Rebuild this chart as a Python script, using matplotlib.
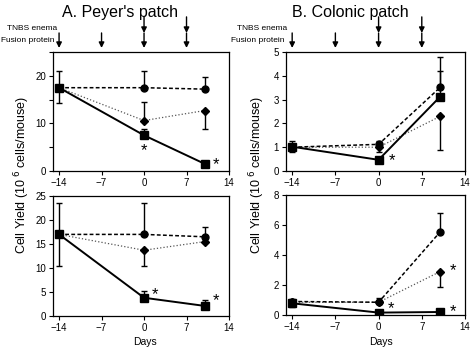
import numpy as np
import matplotlib.pyplot as plt
import matplotlib.transforms as mtransforms

plt.rcParams['font.family'] = ['Liberation Sans', 'DejaVu Sans']

days = [-14, 0, 10]

# A. Peyer's patch, top panel: value, lower end, upper end of error bar
pp1_circ = [17.5, 17.5, 17.2]
pp1_circ_lo = [17.5, 17.5, 17.2]
pp1_circ_hi = [17.5, 21.0, 19.7]
pp1_diam = [17.5, 10.6, 12.7]
pp1_diam_lo = [17.5, 10.6, 8.8]
pp1_diam_hi = [17.5, 14.4, 12.7]
pp1_sq = [17.5, 7.5, 1.5]
pp1_sq_lo = [14.2, 7.5, 1.5]
pp1_sq_hi = [21.0, 8.9, 1.5]

# A. Peyer's patch, bottom panel
pp2_circ = [17.0, 17.0, 16.5]
pp2_circ_lo = [17.0, 17.0, 16.5]
pp2_circ_hi = [17.0, 23.6, 18.6]
pp2_diam = [17.0, 13.7, 15.5]
pp2_diam_lo = [17.0, 10.4, 15.5]
pp2_diam_hi = [17.0, 13.7, 15.5]
pp2_sq = [17.0, 3.8, 2.1]
pp2_sq_lo = [10.4, 3.8, 2.1]
pp2_sq_hi = [23.6, 5.2, 3.4]

# B. Colonic patch, top panel
cp1_circ = [1.0, 1.12, 3.52]
cp1_circ_lo = [1.0, 1.12, 3.52]
cp1_circ_hi = [1.0, 1.24, 4.78]
cp1_diam = [1.0, 1.0, 2.3]
cp1_diam_lo = [1.0, 0.8, 0.9]
cp1_diam_hi = [1.0, 1.0, 2.3]
cp1_sq = [1.02, 0.47, 3.13]
cp1_sq_lo = [0.8, 0.47, 3.13]
cp1_sq_hi = [1.25, 0.47, 4.22]

# B. Colonic patch, bottom panel
cp2_circ = [0.9, 0.85, 5.55]
cp2_circ_lo = [0.9, 0.85, 5.55]
cp2_circ_hi = [1.1, 1.15, 6.8]
cp2_diam = [0.85, 0.85, 2.9]
cp2_diam_lo = [0.55, 0.85, 1.85]
cp2_diam_hi = [0.85, 0.85, 2.9]
cp2_sq = [0.78, 0.16, 0.2]
cp2_sq_lo = [0.78, 0.16, 0.2]
cp2_sq_hi = [0.78, 0.16, 0.2]

fusion_days = [-14, -7, 0, 7]
tnbs_days = [0, 7]

fig = plt.figure(figsize=(4.74, 3.5), dpi=100)
W, H = 474, 350


def add_ax(left, right, top, bottom):
    return fig.add_axes([left / W, 1 - bottom / H, (right - left) / W, (bottom - top) / H])


def series(ax, y, lo, hi, marker, ms, ls, color, lw):
    y = np.array(y)
    yerr = [y - np.array(lo), np.array(hi) - y]
    ax.errorbar(days, y, yerr=yerr, marker=marker, ms=ms, ls=ls, color=color, lw=lw,
                ecolor='black', elinewidth=1.0, capsize=2.5, capthick=1.0,
                mfc='black', mec='black')


def panel(ax, circ, diam, sq, ymax, yticks, stars, minor=None):
    series(ax, *diam, 'D', 3.8, ':', '#555555', 0.9)
    series(ax, *circ, 'o', 5, (0, (2.5, 1.5)), 'black', 1.1)
    series(ax, *sq, 's', 6, '-', 'black', 1.4)
    ax.set_xlim(-15, 14)
    ax.set_ylim(0, ymax)
    ax.set_xticks([-14, -7, 0, 7, 14])
    ax.set_yticks(yticks)
    if minor:
        ax.set_yticks(minor, minor=True)
        ax.tick_params(which='minor', direction='out', length=3, width=0.8)
    ax.tick_params(direction='out', length=3, width=0.8, labelsize=7, pad=2)
    for s in ax.spines.values():
        s.set_linewidth(0.9)
    for sx, sy in stars:
        ax.text(sx, sy, '*', fontsize=12, ha='center', va='center')


def arrows(ax):
    tr = mtransforms.blended_transform_factory(ax.transData, ax.transAxes)
    style = dict(arrowstyle='-|>', color='black', lw=1.0, mutation_scale=8,
                 shrinkA=0, shrinkB=0)
    for d in fusion_days:
        ax.annotate('', xy=(d, 1.034), xytext=(d, 1.16), xycoords=tr, textcoords=tr,
                    arrowprops=style, annotation_clip=False)
    for d in tnbs_days:
        ax.annotate('', xy=(d, 1.16), xytext=(d, 1.295), xycoords=tr, textcoords=tr,
                    arrowprops=style, annotation_clip=False)


axA1 = add_ax(53, 229, 52, 171)
axA2 = add_ax(53, 229, 196, 316)
axB1 = add_ax(286, 465, 52, 171)
axB2 = add_ax(286, 465, 195, 315)

panel(axA1, (pp1_circ, pp1_circ_lo, pp1_circ_hi), (pp1_diam, pp1_diam_lo, pp1_diam_hi),
      (pp1_sq, pp1_sq_lo, pp1_sq_hi), 25, [0, 10, 20], [(0, 4.2), (11.8, 1.4)],
      minor=[5, 15, 25])
panel(axA2, (pp2_circ, pp2_circ_lo, pp2_circ_hi), (pp2_diam, pp2_diam_lo, pp2_diam_hi),
      (pp2_sq, pp2_sq_lo, pp2_sq_hi), 25, [0, 5, 10, 15, 20, 25], [(1.8, 4.4), (11.8, 3.2)])
panel(axB1, (cp1_circ, cp1_circ_lo, cp1_circ_hi), (cp1_diam, cp1_diam_lo, cp1_diam_hi),
      (cp1_sq, cp1_sq_lo, cp1_sq_hi), 5, [0, 1, 2, 3, 4, 5], [(2.1, 0.42)])
panel(axB2, (cp2_circ, cp2_circ_lo, cp2_circ_hi), (cp2_diam, cp2_diam_lo, cp2_diam_hi),
      (cp2_sq, cp2_sq_lo, cp2_sq_hi), 8, [0, 2, 4, 6, 8], [(2.0, 0.4), (12.0, 2.95), (12.0, 0.25)])

arrows(axA1)
arrows(axB1)

fig.text(120 / W, 1 - 12 / H, "A. Peyer's patch", fontsize=11.5, ha='center', va='center')
fig.text(350 / W, 1 - 12 / H, "B. Colonic patch", fontsize=11.5, ha='center', va='center')
for x0 in (7, 237):
    fig.text(x0 / W, 1 - 28 / H, 'TNBS enema', fontsize=6, ha='left', va='center')
    fig.text((x0 - 6) / W, 1 - 41 / H, 'Fusion protein', fontsize=6, ha='left', va='center')

ylab = r'Cell Yield (10$^{\ 6}$ cells/mouse)'
fig.text(22 / W, 0.5, ylab, rotation=90, fontsize=9, ha='center', va='center')
fig.text(257 / W, 0.5, ylab, rotation=90, fontsize=9, ha='center', va='center')
fig.text(145 / W, 1 - 342 / H, 'Days', fontsize=7.5, ha='center', va='center')
fig.text(381 / W, 1 - 342 / H, 'Days', fontsize=7.5, ha='center', va='center')

fig.savefig('out.png', dpi=100)
